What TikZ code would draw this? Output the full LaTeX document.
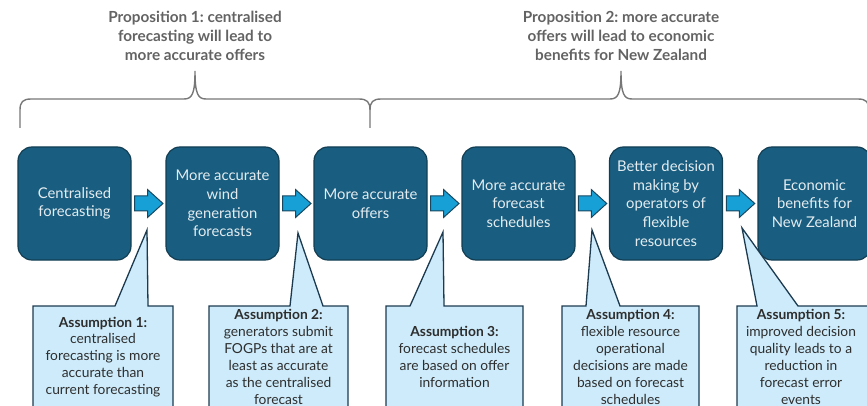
\documentclass[tikz,border=0pt]{standalone}
\usepackage{fontspec}
\setmainfont{Lato}
\frenchspacing
\usetikzlibrary{calc}
\definecolor{boxfill}{HTML}{195E80}
\definecolor{boxline}{HTML}{123E54}
\definecolor{boxtext}{HTML}{E4ECF0}
\definecolor{arrowfill}{HTML}{17A0D6}
\definecolor{arrowline}{HTML}{184860}
\definecolor{calfill}{HTML}{CDEBFA}
\definecolor{calline}{HTML}{1C3B50}
\definecolor{caltextc}{HTML}{2E2E2E}
\definecolor{propc}{HTML}{636363}
\definecolor{bracec}{HTML}{777777}
\begin{document}
\begin{tikzpicture}[x=1pt,y=-1pt,
  mainbox/.style={draw=boxline, line width=1.2pt, fill=boxfill, rounded corners=14pt,
    minimum width=113pt, minimum height=113pt, inner sep=0pt, align=center,
    text=boxtext, font=\fontsize{14.8}{18.6}\selectfont},
  blockarrow/.style={draw=arrowline, line width=1pt, fill=arrowfill, line join=miter},
  callout/.style={draw=calline, line width=1.3pt, fill=calfill, line join=miter},
  caltext/.style={align=center, text=caltextc, font=\fontsize{13.8}{16.9}\selectfont, inner sep=0pt},
  proptext/.style={align=center, text=propc, font=\bfseries\fontsize{15.3}{19.2}\selectfont, inner sep=0pt},
  bracel/.style={draw=bracec, line width=1.4pt}]
\useasboundingbox (0,0) rectangle (867,406);
\clip (0,0) rectangle (867,406);

% propositions
\node[proptext] (p1) at (195,36) {Proposition 1: centralised\\forecasting will lead to\\more accurate offers};
\node[proptext] (p2) at (621,36) {Proposition 2: more accurate\\offers will lead to economic\\benefits for New Zealand};

% braces
\draw[bracel] (20,128) -- (20,110) .. controls (20,102) and (23,99) .. (31,99) -- (184,99)
  .. controls (192,99) and (195,94) .. (195,71) .. controls (195,94) and (198,99) .. (206,99)
  -- (359,99) .. controls (367,99) and (370,102) .. (370,110) -- (370,128);
\draw[bracel] (370,110) .. controls (370,102) and (373,99) .. (381,99) -- (610,99)
  .. controls (618,99) and (621,94) .. (621,71) .. controls (621,94) and (624,99) .. (632,99)
  -- (858,99) .. controls (866,99) and (869,102) .. (869,110) -- (869,128);

% main boxes
\node[mainbox] (b1) at (74.5,203.5) {Centralised\\forecasting};
\node[mainbox] (b2) at (222.5,203.5) {More accurate\\wind\\generation\\forecasts};
\node[mainbox] (b3) at (370.5,203.5) {More accurate\\offers};
\node[mainbox] (b4) at (518.5,203.5) {More accurate\\forecast\\schedules};
\node[mainbox] (b5) at (666,203.5) {Better decision\\making by\\operators of\\flexible\\resources};
\node[mainbox] (b6) at (814.5,203.5) {Economic\\benefits for\\New Zealand};

% block arrows
\foreach \i/\j in {1/2,2/3,3/4,4/5,5/6}{
  \coordinate (m\i) at ($(b\i.east)!0.5!(b\j.west)$);
  \draw[blockarrow] ($(m\i)+(-14,-7.5)$) -- ($(m\i)+(-1,-7.5)$) -- ($(m\i)+(-1,-14)$)
    -- ($(m\i)+(14.5,0)$) -- ($(m\i)+(-1,14)$) -- ($(m\i)+(-1,7.5)$) -- ($(m\i)+(-14,7.5)$) -- cycle;
}

% callouts
\coordinate (t1) at (147,230);
\coordinate (t2) at (298,233);
\coordinate (t3) at (443,232);
\coordinate (t4) at (592,230);
\coordinate (t5) at (742,228);
\draw[callout] (33,420) -- (33,306) -- (115,306) -- (t1) -- (148,306) -- (173,306) -- (173,420) -- cycle;
\draw[callout] (209,420) -- (209,306) -- (290,306) -- (t2) -- (323,306) -- (348,306) -- (348,420) -- cycle;
\draw[callout] (386,420) -- (386,306) -- (410,306) -- (t3) -- (444,306) -- (523,306) -- (523,420) -- cycle;
\draw[callout] (562,420) -- (562,306) -- (586,306) -- (t4) -- (620,306) -- (699,306) -- (699,420) -- cycle;
\draw[callout] (737,420) -- (737,306) -- (757,306) -- (t5) -- (798,306) -- (872,306) -- (872,420) -- cycle;

\node[caltext] (c1) at (103,357) {\textbf{Assumption 1:}\\centralised\\forecasting is more\\accurate than\\current forecasting};
\node[caltext] (c2) at (278.5,357) {\textbf{Assumption 2:}\\generators submit\\FOGPs that are at\\least as accurate\\as the centralised\\forecast};
\node[caltext] (c3) at (454.5,357) {\textbf{Assumption 3:}\\forecast schedules\\are based on offer\\information};
\node[caltext] (c4) at (630.5,357) {\textbf{Assumption 4:}\\flexible resource\\operational\\decisions are made\\based on forecast\\schedules};
\node[caltext] (c5) at (801,357) {\textbf{Assumption 5:}\\improved decision\\quality leads to a\\reduction in\\forecast error\\events};
\end{tikzpicture}
\end{document}
